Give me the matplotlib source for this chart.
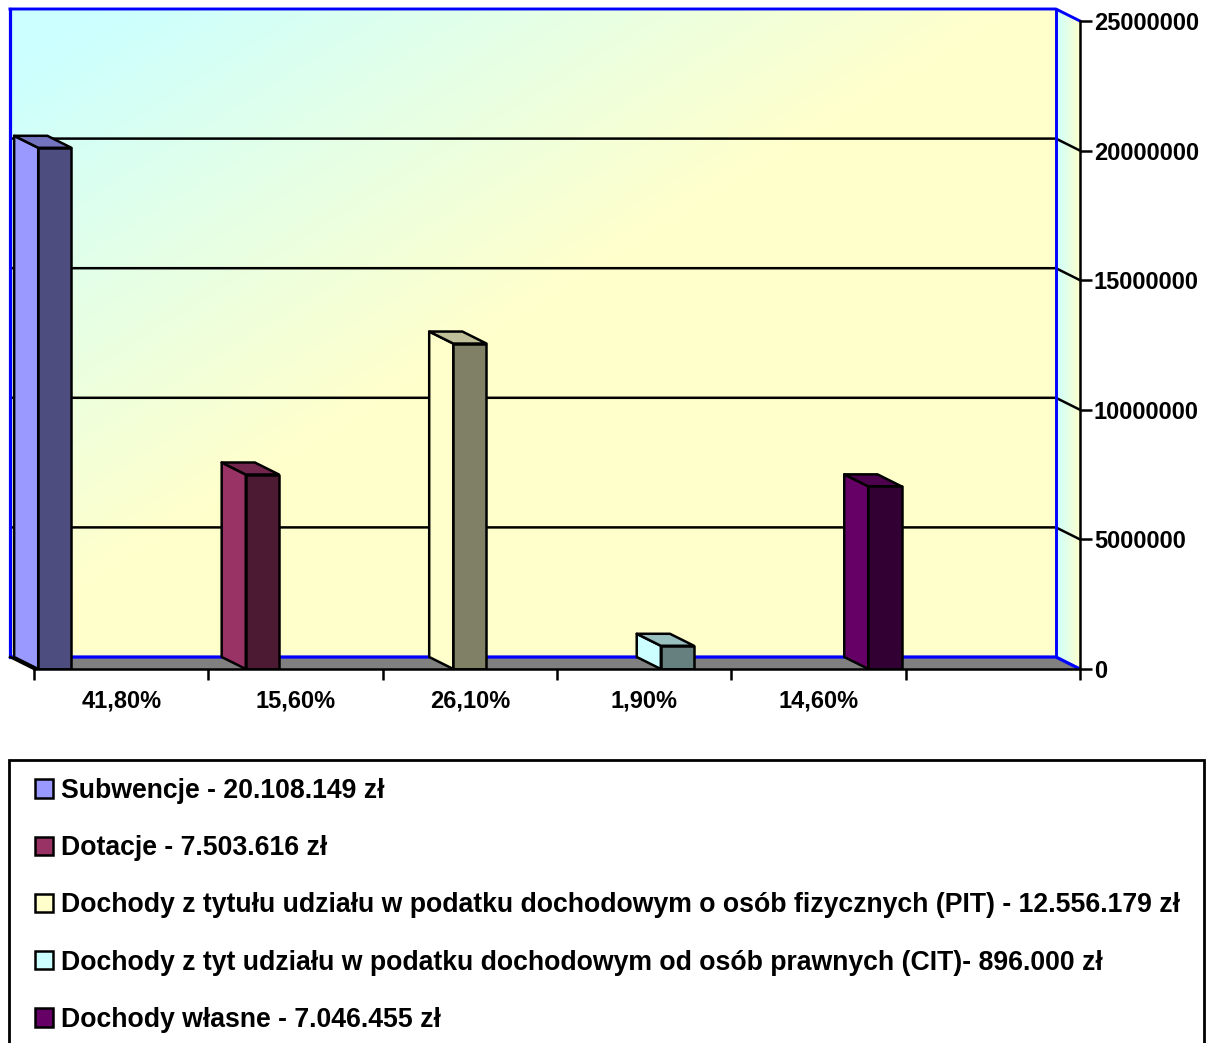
import numpy as np
import matplotlib.pyplot as plt
from matplotlib.patches import Polygon, Rectangle, Patch

plt.rcParams['font.family'] = ['Liberation Sans', 'DejaVu Sans']
plt.rcParams['font.weight'] = 'bold'

# ========== Data ==========
values = [20108149, 7503616, 12556179, 896000, 7046455]
tick_labels = ['41,80%', '15,60%', '26,10%', '1,90%', '14,60%', '']
legend_labels = [
    'Subwencje - 20.108.149 zł',
    'Dotacje - 7.503.616 zł',
    'Dochody z tytułu udziału w podatku dochodowym o osób fizycznych (PIT) - 12.556.179 zł',
    'Dochody z tyt udziału w podatku dochodowym od osób prawnych (CIT)- 896.000 zł',
    'Dochody własne - 7.046.455 zł',
]
side_colors = ['#9999FF', '#993366', '#FFFFCC', '#CCFFFF', '#660066']
front_colors = ['#4D4D80', '#4D1A33', '#808066', '#668080', '#330033']
top_colors = ['#7373BF', '#73264D', '#BFBF99', '#99BFBF', '#4D004D']
y_ticks = [0, 5000000, 10000000, 15000000, 20000000, 25000000]

# ========== Layout ==========
W, H = 1215, 1043
AXIS_LEN = 5.04       # front axis length in bar-slot units
BAR_OFF = 0.02        # bar start inside its slot
BAR_W = 0.16          # bar front face width
DX = 0.116            # depth shift to the back (x units)
YMAX = 25000000
DY = 463000           # depth shift to the back (value units)
BLUE = '#0000FF'
LW = 1.8

fig = plt.figure(figsize=(W / 100, H / 100), dpi=100)
fig.patch.set_facecolor('white')
left_px, right_px, top_px, bot_px = 10, 1080, 9, 669
ax = fig.add_axes([left_px / W, 1 - bot_px / H, (right_px - left_px) / W, (bot_px - top_px) / H])
ax.set_xlim(-DX, AXIS_LEN)
ax.set_ylim(0, YMAX + DY)
ax.patch.set_alpha(0)

# back wall gradient (cyan top-left -> pale yellow)
gw, gh = 240, 140
u = np.linspace(0, 1, gw)[None, :]
v = np.linspace(0, 1, gh)[:, None]
t = np.clip((u + v - 0.1) / 0.85, 0, 1)
cyan = np.array([0.8, 1.0, 1.0])
yellow = np.array([1.0, 1.0, 0.8])
grad = cyan[None, None, :] * (1 - t[..., None]) + yellow[None, None, :] * t[..., None]
ax.imshow(grad, extent=(-DX, AXIS_LEN - DX, DY, YMAX + DY), origin='upper',
          aspect='auto', zorder=0, interpolation='bilinear')

# right side wall gradient
side = Polygon([(AXIS_LEN - DX, DY), (AXIS_LEN, 0), (AXIS_LEN, YMAX), (AXIS_LEN - DX, YMAX + DY)],
               closed=True, facecolor='none', edgecolor='none')
ax.add_patch(side)
sg = np.linspace(0, 1, 50)[None, :, None]
side_grad = cyan[None, None, :] * (1 - sg) + yellow[None, None, :] * sg
im = ax.imshow(np.repeat(side_grad, 2, axis=0), extent=(AXIS_LEN - DX, AXIS_LEN, 0, YMAX + DY),
               aspect='auto', zorder=0, interpolation='bilinear')
im.set_clip_path(side)

# gridlines on back wall and side wall
for yv in y_ticks[1:-1]:
    ax.plot([-DX, AXIS_LEN - DX, AXIS_LEN], [yv + DY, yv + DY, yv], color='black', lw=LW, zorder=1)
# wall edges
ax.plot([-DX, AXIS_LEN - DX, AXIS_LEN], [YMAX + DY, YMAX + DY, YMAX], color=BLUE, lw=LW + 0.3,
        zorder=1, clip_on=False)
ax.plot([-DX, -DX], [DY, YMAX + DY], color=BLUE, lw=LW + 0.5, zorder=1, clip_on=False)
ax.plot([AXIS_LEN - DX, AXIS_LEN - DX], [DY, YMAX + DY], color=BLUE, lw=LW + 0.3, zorder=1)

# floor
floor = Polygon([(-DX, DY), (AXIS_LEN - DX, DY), (AXIS_LEN, 0), (0, 0)], closed=True,
                facecolor='#808080', edgecolor='none', zorder=2)
ax.add_patch(floor)
ax.plot([-DX, AXIS_LEN - DX, AXIS_LEN], [DY, DY, 0], color=BLUE, lw=LW + 0.5, zorder=2)
ax.plot([-DX, 0], [DY, 0], color='black', lw=LW, zorder=2, clip_on=False)

# bars
for i, val in enumerate(values):
    x0 = i + BAR_OFF
    x1 = x0 + BAR_W
    ax.add_patch(Polygon([(x0, 0), (x0, val), (x0 - DX, val + DY), (x0 - DX, DY)], closed=True,
                         facecolor=side_colors[i], edgecolor='black', lw=LW, zorder=3, joinstyle='round'))
    ax.add_patch(Polygon([(x0, val), (x1, val), (x1 - DX, val + DY), (x0 - DX, val + DY)], closed=True,
                         facecolor=top_colors[i], edgecolor='black', lw=LW, zorder=3, joinstyle='round'))
    ax.add_patch(Rectangle((x0, 0), BAR_W, val, facecolor=front_colors[i], edgecolor='black',
                           lw=LW, zorder=4, joinstyle='round'))

# axes
for s in ['top', 'left']:
    ax.spines[s].set_visible(False)
ax.spines['bottom'].set_bounds(0, AXIS_LEN)
ax.spines['right'].set_bounds(0, YMAX)
ax.spines['bottom'].set_linewidth(LW)
ax.spines['right'].set_linewidth(LW)
ax.spines['bottom'].set_zorder(5)

n_cat = len(tick_labels)
ax.set_xticks([AXIS_LEN * k / n_cat for k in range(n_cat + 1)])
ax.set_xticklabels([])
ax.set_xticks([AXIS_LEN * (k + 0.5) / n_cat for k in range(n_cat)], minor=True)
ax.set_xticklabels(tick_labels, minor=True, fontsize=17, fontweight='bold')
ax.tick_params(axis='x', which='major', direction='out', length=8, width=LW)
ax.tick_params(axis='x', which='minor', length=0, pad=15)

ax.yaxis.tick_right()
ax.set_yticks(y_ticks)
ax.set_yticklabels([str(v) for v in y_ticks], fontsize=17, fontweight='bold')
ax.tick_params(axis='y', direction='out', length=8.5, width=LW, pad=1.5)

# legend
fig.patches.append(Rectangle((9 / W, -0.05), (1204 - 9) / W, 0.05 + 1 - 760 / H,
                             transform=fig.transFigure, facecolor='white', edgecolor='black', lw=2))
handles = [Patch(facecolor=c, edgecolor='black', lw=1.8) for c in side_colors]
fig.legend(handles, legend_labels, loc='upper left', bbox_to_anchor=(35 / W, 1 - 778 / H),
           frameon=False, borderpad=0, borderaxespad=0,
           handlelength=0.68, handleheight=0.68, handletextpad=0.3, labelspacing=1.17,
           prop={'weight': 'bold', 'size': 19.2})

fig.savefig('out.png', dpi=100)
